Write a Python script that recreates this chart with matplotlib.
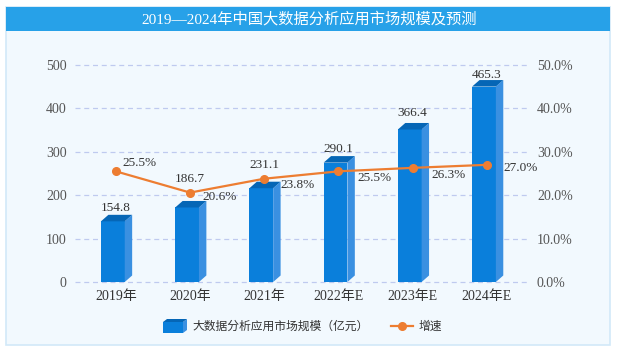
import matplotlib
matplotlib.use("Agg")
import matplotlib.pyplot as plt
from matplotlib.patches import Polygon, Rectangle
from matplotlib.lines import Line2D

years = ["2019年", "2020年", "2021年", "2022年E", "2023年E", "2024年E"]
market = [154.8, 186.7, 231.1, 290.1, 366.4, 465.3]   # 亿元
growth = [25.5, 20.6, 23.8, 25.5, 26.3, 27.0]          # %

title = "2019—2024年中国大数据分析应用市场规模及预测"
bar_label = "大数据分析应用市场规模（亿元）"
line_label = "增速"

# label offsets in points (layout only)
val_off = [5, 16, 12, 5, 7, 4]
pct_off = [(17, 6), (21, -3), (24, -4.5), (26, -4.5), (26, -5), (24, -2)]

plt.rcParams['font.family'] = ['Liberation Serif', 'Noto Sans CJK SC']

W, H = 621, 348
fig = plt.figure(figsize=(W / 100, H / 100), dpi=100)
fig.patch.set_facecolor('white')


def fx(px):
    return px / W


def fy(py):
    return 1 - py / H


# panel background + title bar
fig.patches.append(Rectangle((fx(6), fy(345)), fx(604), (345 - 7) / H, transform=fig.transFigure,
                             facecolor='#f2f9fe', edgecolor='#d2e9f8', lw=1.2, zorder=-3))
fig.patches.append(Rectangle((fx(6), fy(31)), fx(604), 24 / H, transform=fig.transFigure,
                             facecolor='#27a1e8', edgecolor='none', zorder=-2))
fig.text(fx(309), fy(19), title, color='white', fontsize=11, ha='center', va='center')

ax = fig.add_axes([fx(75), fy(282), (530 - 75) / W, (282 - 65) / H])
ax.set_facecolor('none')
ax2 = ax.twinx()

x = list(range(len(years)))
w, d, dy = 0.32, 0.10, 15
for i, v in zip(x, market):
    x0 = i - 0.2
    ax.add_patch(Rectangle((x0, 0), w, v - dy, facecolor='#0a7fdb', edgecolor='none', zorder=3))
    ax.add_patch(Polygon([(x0 + w, 0), (x0 + w + d, dy), (x0 + w + d, v), (x0 + w, v - dy)],
                         facecolor='#3a90e1', edgecolor='none', zorder=3))
    ax.add_patch(Polygon([(x0, v - dy), (x0 + w, v - dy), (x0 + w + d, v), (x0 + d, v)],
                         facecolor='#0566b6', edgecolor='none', zorder=3))

for i, v, o in zip(x, market, val_off):
    ax.annotate(f"{v:.1f}", (i, v), xytext=(0, o), textcoords='offset points',
                ha='center', va='center', fontsize=9.5, color='#333333')

ax.set_xlim(-0.55, 5.58)
ax.set_ylim(0, 500)
ax.set_yticks(range(0, 501, 100))
ax.set_xticks(x)
ax.set_xticklabels(years)
ax.yaxis.grid(True, linestyle=(0, (4, 3)), color='#bfcaef', lw=0.9)
for gl in ax.get_ygridlines():
    gl.set_clip_on(False)
ax.set_axisbelow(True)
ax.tick_params(axis='y', length=0, pad=6, labelsize=10, labelcolor='#555555')
ax.tick_params(axis='x', length=0, pad=6, labelsize=10, labelcolor='#333333')

ax2.plot(x, growth, color='#ed7d31', marker='o', ms=5.5, lw=1.6, zorder=5)
for i, g, o in zip(x, growth, pct_off):
    ax2.annotate(f"{g:.1f}%", (i, g), xytext=o, textcoords='offset points',
                 ha='center', va='center', fontsize=9.5, color='#333333')
ax2.set_ylim(0, 50)
ax2.set_yticks(range(0, 51, 10))
ax2.set_yticklabels([f"{t:.1f}%" for t in range(0, 51, 10)])
ax2.tick_params(axis='y', length=0, pad=5, labelsize=10, labelcolor='#555555')

for a in (ax, ax2):
    for s in a.spines.values():
        s.set_visible(False)

# legend, drawn by hand
fig.patches.append(Polygon([(fx(163), fy(333)), (fx(183), fy(333)), (fx(183), fy(322)), (fx(163), fy(322))],
                           closed=True, transform=fig.transFigure, facecolor='#0a7fdb', zorder=3))
fig.patches.append(Polygon([(fx(183), fy(333)), (fx(187), fy(330)), (fx(187), fy(319)), (fx(183), fy(322))],
                           closed=True, transform=fig.transFigure, facecolor='#3a90e1', zorder=3))
fig.patches.append(Polygon([(fx(163), fy(322)), (fx(183), fy(322)), (fx(187), fy(319)), (fx(167), fy(319))],
                           closed=True, transform=fig.transFigure, facecolor='#0566b6', zorder=3))
fig.text(fx(192), fy(327), bar_label, fontsize=8.5, color='#333333', ha='left', va='center')
fig.lines.append(Line2D([fx(391), fx(413)], [fy(326), fy(326)], transform=fig.transFigure,
                        color='#ed7d31', lw=1.6, zorder=3))
fig.lines.append(Line2D([fx(402)], [fy(326)], transform=fig.transFigure,
                        color='#ed7d31', marker='o', ms=5.5, zorder=3))
fig.text(fx(419), fy(327), line_label, fontsize=8.5, color='#333333', ha='left', va='center')

fig.savefig("out.png", dpi=100)
